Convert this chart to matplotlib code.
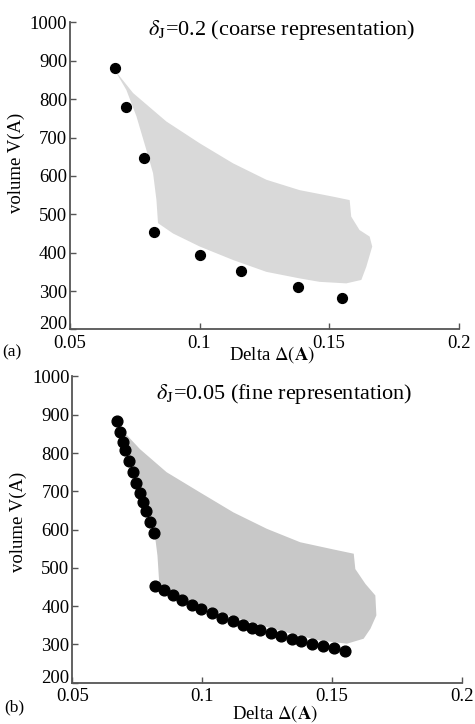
import numpy as np
import matplotlib
matplotlib.use("Agg")
import matplotlib.pyplot as plt

plt.rcParams['font.family'] = ['Liberation Serif', 'DejaVu Serif']
plt.rcParams['mathtext.fontset'] = 'stix'

# panel (a): coarse representation points
coarse_delta = [0.0673, 0.0718, 0.0785, 0.0824, 0.1000, 0.1159, 0.1380, 0.1548]
coarse_vol = [882, 780, 647, 453, 393, 352, 310, 283]

# panel (b): fine representation points
fine_delta = [0.0671, 0.0685, 0.0694, 0.0705, 0.0720, 0.0732, 0.0745, 0.0762,
              0.0774, 0.0785, 0.0799, 0.0813,
              0.0820, 0.0853, 0.0887, 0.0921, 0.0959, 0.0996, 0.1036, 0.1075,
              0.1117, 0.1156, 0.1190, 0.1223, 0.1263, 0.1303, 0.1345, 0.1380,
              0.1422, 0.1463, 0.1506, 0.1549]
fine_vol = [883, 854, 830, 807, 779, 751, 723, 695, 671, 648, 621, 592,
            453, 441, 428, 417, 404, 392, 381, 370, 361, 350, 343, 337,
            329, 322, 315, 309, 301, 295, 290, 283]

# outline of the grey cloud of candidate designs
cloud_a_x = [0.0673, 0.0744, 0.0872, 0.1001, 0.1129, 0.1258, 0.1386, 0.1515, 0.1579,
             0.1585, 0.1617, 0.1656, 0.1666, 0.1643, 0.1624,
             0.1566, 0.1463, 0.1386, 0.1258, 0.1129, 0.1001, 0.0898, 0.0840,
             0.0834, 0.0821, 0.0795, 0.0757, 0.0718]
cloud_a_y = [876, 816, 742, 685, 633, 590, 563, 546, 537,
             494, 459, 442, 416, 363, 329,
             320, 324, 333, 350, 381, 416, 450, 477,
             537, 607, 668, 755, 824]

cloud_b_x = [0.0677, 0.0761, 0.0863, 0.0992, 0.1120, 0.1249, 0.1377, 0.1506, 0.1583,
             0.1589, 0.1628, 0.1666, 0.1670, 0.1647, 0.1621,
             0.1557, 0.1454, 0.1377, 0.1249, 0.1120, 0.0992, 0.0889, 0.0835,
             0.0828, 0.0815, 0.0786, 0.0748, 0.0709]
cloud_b_y = [871, 810, 750, 697, 645, 602, 567, 548, 537,
             497, 458, 428, 376, 341, 315,
             302, 310, 322, 345, 371, 402, 428, 458,
             532, 602, 663, 741, 810]

xticks = [0.05, 0.1, 0.15, 0.2]
xticklabels = ['0.05', '0.1', '0.15', '0.2']
yticks = [200, 300, 400, 500, 600, 700, 800, 900, 1000]

fig = plt.figure(figsize=(4.75, 7.24), dpi=100)
ax1 = fig.add_axes([0.147, 0.545, 0.819, 0.424])
ax2 = fig.add_axes([0.152, 0.057, 0.821, 0.423])


def style(ax, ylab_pos, xlab_pos):
    ax.set_xlim(0.05, 0.2)
    ax.set_ylim(200, 1000)
    ax.set_xticks(xticks)
    ax.set_xticklabels(xticklabels)
    ax.set_yticks(yticks)
    for s in ['top', 'right']:
        ax.spines[s].set_visible(False)
    for s in ['left', 'bottom']:
        ax.spines[s].set_color('#555555')
        ax.spines[s].set_linewidth(1.3)
    ax.tick_params(direction='in', length=4, width=1, color='#555555',
                   labelsize=13.5)
    ax.tick_params(axis='x', pad=4)
    ax.tick_params(axis='y', pad=2)
    # the lowest y label sits just above its tick, clear of "0.05"
    ax.get_yticklabels()[0].set_verticalalignment('baseline')
    ax.set_ylabel('volume V(A)', fontsize=13.5)
    ax.yaxis.set_label_coords(*ylab_pos)
    ax.set_xlabel(r'Delta $\Delta(\mathbf{A})$', fontsize=13.5)
    ax.xaxis.set_label_coords(*xlab_pos)


style(ax1, (-0.116, 0.542), (0.52, -0.048))
ax1.fill(cloud_a_x, cloud_a_y, color='#d9d9d9', lw=0, zorder=1)
ax1.scatter(coarse_delta, coarse_vol, s=50, color='black', zorder=3, clip_on=False)
ax1.text(0.545, 0.975, r'$\delta_\mathrm{J}$=0.2 (coarse representation)',
         transform=ax1.transAxes, ha='center', va='center', fontsize=16)
fig.text(0.004, 0.513, '(a)', fontsize=12.5, ha='left', va='center')

style(ax2, (-0.115, 0.524), (0.52, -0.066))
ax2.fill(cloud_b_x, cloud_b_y, color='#c8c8c8', lw=0, zorder=1)
ax2.scatter(fine_delta, fine_vol, s=60, color='black', zorder=3, clip_on=False)
ax2.text(0.544, 0.942, r'$\delta_\mathrm{J}$=0.05 (fine representation)',
         transform=ax2.transAxes, ha='center', va='center', fontsize=16)
fig.text(0.008, 0.023, '(b)', fontsize=12.5, ha='left', va='center')

fig.savefig('out.png', dpi=100)
